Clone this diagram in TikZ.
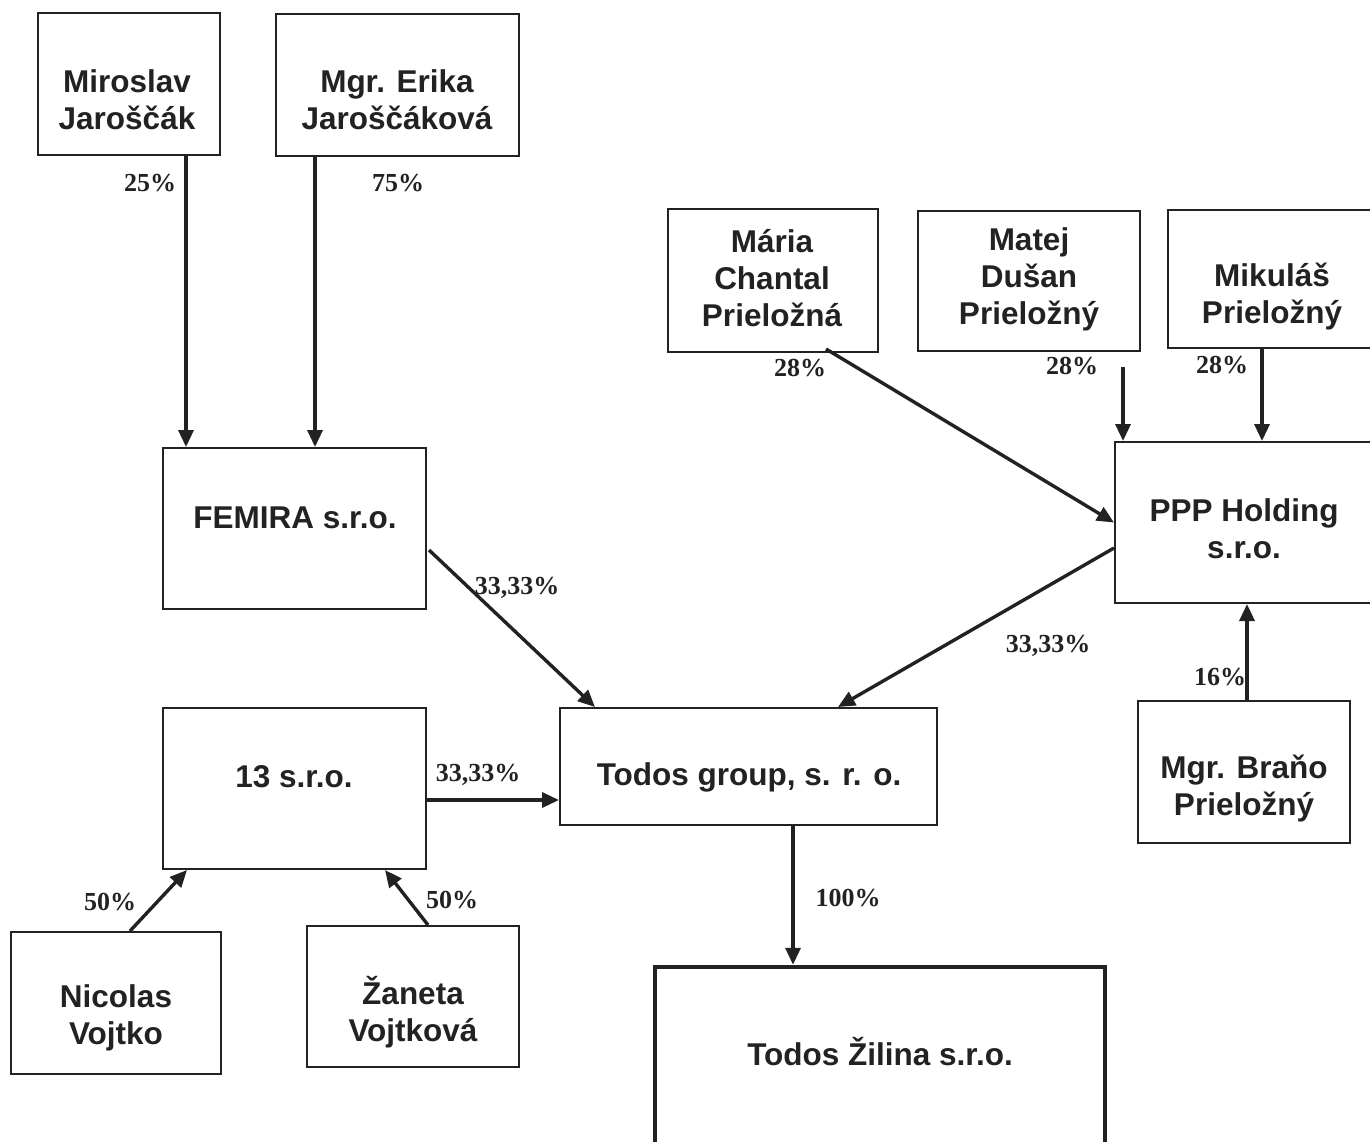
\documentclass[tikz,border=0pt]{standalone}
\usepackage{fontspec}
\setmainfont{Liberation Serif}
\setsansfont{Liberation Sans}
\usetikzlibrary{arrows.meta}
\definecolor{ink}{HTML}{222222}
\tikzset{
  box/.style={draw=ink, line width=2pt, inner sep=0pt},
  boxtext/.style={text=ink, align=center, font=\sffamily\bfseries\fontsize{31.5}{37}\selectfont},
  pct/.style={text=ink, font=\rmfamily\bfseries\fontsize{26}{30}\selectfont},
  arr/.style={draw=ink, line width=3.4pt, -{Triangle[length=17pt,width=15pt]}},
}
\begin{document}
\begin{tikzpicture}[x=1pt,y=-1pt]
\useasboundingbox (0,0) rectangle (1370,1141);
% boxes
\node[box, minimum width=182pt, minimum height=142pt] (mir) at (129,84) {};
\node[box, minimum width=243pt, minimum height=142pt] (eri) at (397.5,85) {};
\node[box, minimum width=263pt, minimum height=161pt] (fem) at (294.5,528.5) {};
\node[box, minimum width=210pt, minimum height=143pt] (mar) at (773,280.5) {};
\node[box, minimum width=222pt, minimum height=140pt] (mat) at (1029,281) {};
\node[box, minimum width=208pt, minimum height=138pt] (mik) at (1272,279) {};
\node[box, minimum width=258pt, minimum height=161pt] (ppp) at (1244,522.5) {};
\node[box, minimum width=212pt, minimum height=142pt] (bra) at (1244,772) {};
\node[box, minimum width=377pt, minimum height=117pt] (tog) at (748.5,766.5) {};
\node[box, minimum width=263pt, minimum height=161pt] (tri) at (294.5,788.5) {};
\node[box, minimum width=210pt, minimum height=142pt] (nic) at (116,1003) {};
\node[box, minimum width=212pt, minimum height=141pt] (zan) at (413,996.5) {};
\node[box, line width=4.5pt, minimum width=450pt, minimum height=183pt] (zil) at (880,1058.5) {};
% box texts
\node[boxtext] (mirt) at (127,100) {Miroslav\\Jaroščák};
\node[boxtext] (erit) at (397,100) {Mgr. Erika\\Jaroščáková};
\node[boxtext] (femt) at (295,518) {FEMIRA s.r.o.};
\node[boxtext] (mart) at (772,278) {Mária\\Chantal\\Prieložná};
\node[boxtext] (matt) at (1029,279) {Matej\\Dušan\\Prieložný};
\node[boxtext] (mikt) at (1272,297) {Mikuláš\\Prieložný};
\node[boxtext] (pppt) at (1244,529) {PPP Holding\\s.r.o.};
\node[boxtext] (brat) at (1244,788) {Mgr. Braňo\\Prieložný};
\node[boxtext] (togt) at (749,777) {Todos group, s. r. o.};
\node[boxtext] (trit) at (294,777) {13 s.r.o.};
\node[boxtext] (nict) at (116,1018) {Nicolas\\Vojtko};
\node[boxtext] (zant) at (413,1012) {Žaneta\\Vojtková};
\node[boxtext] (zilt) at (880,1052) {Todos Žilina s.r.o.};
% connectors
\draw[arr] ([xshift=57pt]mir.south) -- ([xshift=-108.5pt]fem.north);
\draw[arr] ([xshift=-82.5pt]eri.south) -- ([xshift=20.5pt]fem.north);
\draw[arr] ([xshift=53pt,yshift=4pt]mar.south) -- (ppp.west);
\draw[arr] ([xshift=94pt,yshift=-15pt]mat.south) -- ([xshift=-121pt]ppp.north);
\draw[arr] ([xshift=-10pt]mik.south) -- ([xshift=18pt]ppp.north);
\draw[arr] ([yshift=-25.5pt]ppp.west) -- ([xshift=89.5pt]tog.north);
\draw[arr] ([xshift=2pt,yshift=-21.5pt]fem.east) -- ([xshift=-153.5pt]tog.north);
\draw[arr] ([yshift=-11.5pt]tri.east) -- ([yshift=-33.5pt]tog.west);
\draw[arr] ([xshift=3pt]bra.north) -- ([xshift=3pt]ppp.south);
\draw[arr] ([xshift=14pt]nic.north) -- ([xshift=-107.5pt]tri.south);
\draw[arr] ([xshift=15pt]zan.north) -- ([xshift=90.5pt]tri.south);
\draw[arr] ([xshift=44.5pt]tog.south) -- ([xshift=-87pt]zil.north);
% percentage labels
\node[pct] (l1) at (150,183) {25\%};
\node[pct] (l2) at (398,183) {75\%};
\node[pct] (l3) at (800,368) {28\%};
\node[pct] (l4) at (1072,366) {28\%};
\node[pct] (l5) at (1222,365) {28\%};
\node[pct] (l6) at (517,588) {33,33\%};
\node[pct] (l7) at (1048,646) {33,33\%};
\node[pct] (l8) at (478,775) {33,33\%};
\node[pct] (l9) at (1220,677) {16\%};
\node[pct] (l10) at (110,902) {50\%};
\node[pct] (l11) at (452,900) {50\%};
\node[pct] (l12) at (848,898) {100\%};
\end{tikzpicture}
\end{document}
